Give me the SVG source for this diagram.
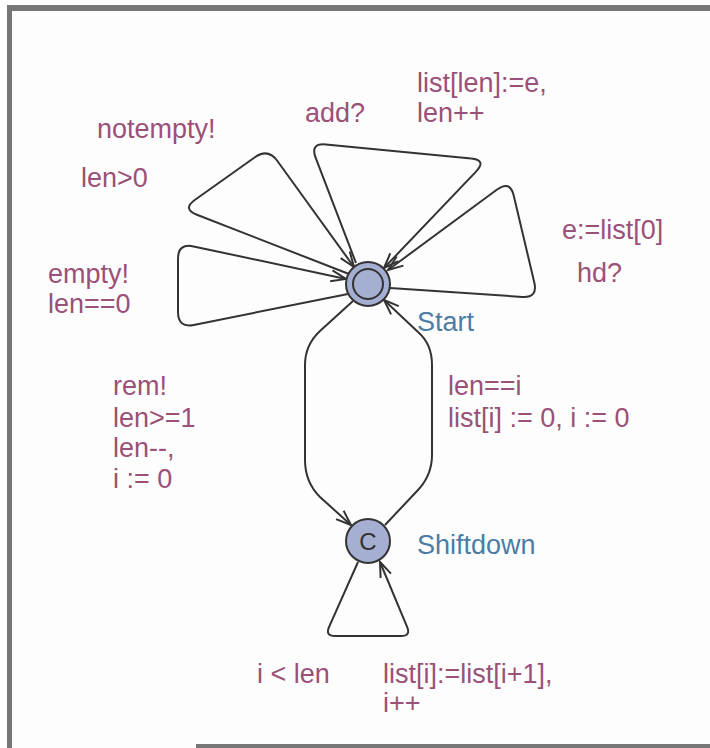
<svg xmlns="http://www.w3.org/2000/svg" width="710" height="748" viewBox="0 0 710 748">
<defs>
<marker id="arr" markerUnits="userSpaceOnUse" markerWidth="20" markerHeight="20" viewBox="-14 -7 16 14" refX="0" refY="0" orient="auto">
<path d="M-12,-4.5 L0,0 L-12,4.5" fill="none" stroke="#333" stroke-width="1.6"/>
</marker>
<style>
.edge{fill:none;stroke:#333;stroke-width:2;}
.arrow{marker-end:url(#arr);}
.node{fill:#a5afd2;stroke:#333;stroke-width:2;}
.lbl{font-family:"Liberation Sans",Arial,sans-serif;font-size:27px;fill:#9b5078;}
.name{font-family:"Liberation Sans",Arial,sans-serif;font-size:27px;fill:#4b7da5;}
.border{fill:#777;}
</style>
</defs>
<rect x="7" y="5" width="703" height="743" fill="#fdfdfd"/>
<g id="frame">
<rect class="border" x="7" y="5" width="703" height="6"/>
<rect class="border" x="7" y="5" width="5" height="743"/>
<rect class="border" x="196" y="744" width="514" height="4"/>
</g>
<g id="connectors">
<path class="edge arrow" d="M349,274 L196.9,214.7 Q182,209 195.1,199.7 L254.9,157.3 Q268,148 277.4,161 L354,267"/>
<path class="edge" d="M356,263 L315.7,157.9 Q310,143 325.9,144.5 L471.1,158.5"/>
<path class="edge arrow" d="M471.1,158.5 Q487,160 476,171.6 L384,268"/>
<path class="edge arrow" d="M390,288 L522,296.9 Q538,298 534.3,282.4 L513.7,195.6 Q510,180 497.1,189.5 L388,270"/>
<path class="edge arrow" d="M348,294 L193.7,324.9 Q178,328 178,312 L178,259 Q178,243 193.6,246.4 L346,279"/>
<path class="edge arrow" d="M353,301 L320,331 Q305,345 305,365 L305,460 Q305,482 320,497 L351,525"/>
<path class="edge arrow" d="M385,525 L418,490 Q432,475 432,455 L432,365 Q432,344 418,332 L384,300"/>
<path class="edge arrow" d="M358,562 L329.1,626.9 Q325,636 335,636 L401,636 Q411,636 407.1,626.8 L380,562"/>
</g>
<g id="labels">
<text class="lbl" x="97" y="138">notempty!</text>
<text class="lbl" x="81" y="187">len&gt;0</text>
<text class="lbl" x="48" y="283">empty!</text>
<text class="lbl" x="48" y="313">len==0</text>
<text class="lbl" x="305" y="122">add?</text>
<text class="lbl" x="417" y="92">list[len]:=e,</text>
<text class="lbl" x="417" y="122">len++</text>
<text class="lbl" x="562" y="239">e:=list[0]</text>
<text class="lbl" x="577" y="282">hd?</text>
<text class="lbl" x="113" y="395">rem!</text>
<text class="lbl" x="113" y="427">len&gt;=1</text>
<text class="lbl" x="113" y="457">len--,</text>
<text class="lbl" x="113" y="488">i := 0</text>
<text class="lbl" x="448" y="395">len==i</text>
<text class="lbl" x="448" y="427">list[i] := 0, i := 0</text>
<text class="lbl" x="257" y="683">i &lt; len</text>
<text class="lbl" x="383" y="683">list[i]:=list[i+1],</text>
<text class="lbl" x="383" y="712">i++</text>
</g>
<g id="Start">
<circle class="node" cx="368" cy="284" r="22"/>
<circle cx="368" cy="284" r="15" fill="none" stroke="#333" stroke-width="2"/>
<text class="name" x="417" y="331">Start</text>
</g>
<g id="Shiftdown">
<circle class="node" cx="368" cy="541" r="22"/>
<text x="368" y="550" text-anchor="middle" font-family="Liberation Sans,Arial,sans-serif" font-size="24" fill="#333">C</text>
<text class="name" x="417" y="554">Shiftdown</text>
</g>
</svg>
